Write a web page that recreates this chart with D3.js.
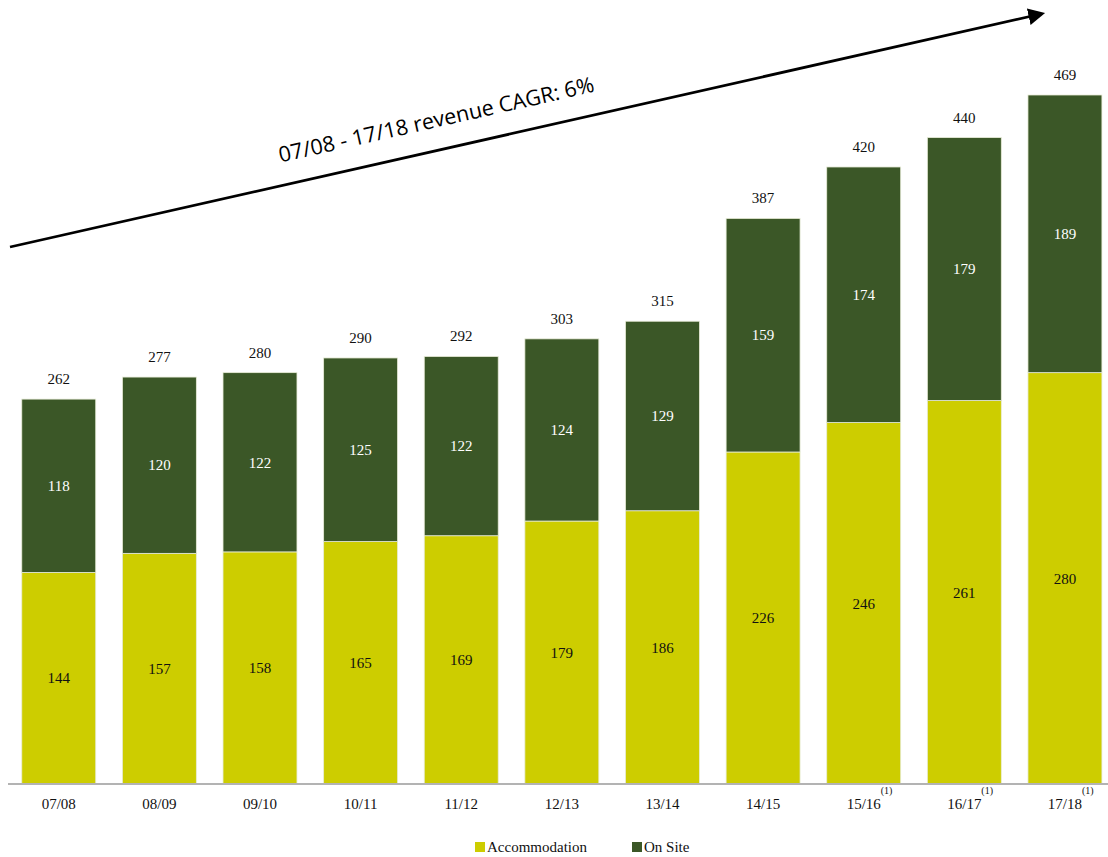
<!DOCTYPE html>
<html>
<head>
<meta charset="utf-8">
<script src="https://cdn.jsdelivr.net/npm/d3@7"></script>
<style>
  body { margin: 0; background: #fff; }
  svg { display: block; }
</style>
</head>
<body>
<div id="chart"></div>
<script>
// Donnees
const years = ["07/08", "08/09", "09/10", "10/11", "11/12", "12/13", "13/14", "14/15", "15/16", "16/17", "17/18"];
const accommodation = [144, 157, 158, 165, 169, 179, 186, 226, 246, 261, 280];
const onSite = [118, 120, 122, 125, 122, 124, 129, 159, 174, 179, 189];
const totals = [262, 277, 280, 290, 292, 303, 315, 387, 420, 440, 469];
const footnoted = ["15/16", "16/17", "17/18"];
const seriesNames = ["Accommodation", "On Site"];
const cagrLabel = "07/08 - 17/18 revenue CAGR: 6%";

const W = 1108, H = 857;
const COLORS = { "Accommodation": "#cdcd00", "On Site": "#3b5727" };
const serif = "'Liberation Serif', 'DejaVu Serif', serif";

const svg = d3.select('#chart').append('svg')
    .attr('width', W)
    .attr('height', H);

const x = d3.scaleBand()
    .domain(years)
    .range([8.7, 1115])
    .paddingInner(0.265)
    .paddingOuter(0.13);

const y = d3.scaleLinear()
    .domain([0, 469])
    .range([784, 95]);

const rows = years.map((yr, i) => ({ year: yr, "Accommodation": accommodation[i], "On Site": onSite[i], total: totals[i] }));
const stacked = d3.stack().keys(seriesNames)(rows);

// Barres empilees
const layers = svg.append('g').selectAll('g')
    .data(stacked)
    .join('g')
    .attr('fill', d => COLORS[d.key]);

layers.selectAll('rect')
    .data(d => d)
    .join('rect')
    .attr('x', d => x(d.data.year))
    .attr('y', d => y(d[1]))
    .attr('width', x.bandwidth())
    .attr('height', d => y(d[0]) - y(d[1]))
    .attr('stroke', '#e8ecd8')
    .attr('stroke-width', 0.8);

// Valeurs dans les segments
layers.selectAll('text')
    .data(d => d.map(v => ({ v, key: d.key })))
    .join('text')
    .attr('x', d => x(d.v.data.year) + x.bandwidth() / 2)
    .attr('y', d => (y(d.v[0]) + y(d.v[1])) / 2)
    .attr('dy', '0.35em')
    .attr('text-anchor', 'middle')
    .attr('font-family', serif)
    .attr('font-size', 15)
    .attr('fill', d => d.key === "On Site" ? '#ffffff' : '#111111')
    .text(d => d.v.data[d.key]);

// Totaux au-dessus des barres
svg.append('g').selectAll('text')
    .data(rows)
    .join('text')
    .attr('x', d => x(d.year) + x.bandwidth() / 2)
    .attr('y', d => y(d["Accommodation"] + d["On Site"]) - 15)
    .attr('text-anchor', 'middle')
    .attr('font-family', serif)
    .attr('font-size', 15)
    .attr('fill', '#111')
    .text(d => d.total);

// Axe X
const xAxis = svg.append('g')
    .attr('transform', 'translate(0,784)')
    .call(d3.axisBottom(x).tickSize(0).tickPadding(14));
xAxis.select('.domain').remove();
xAxis.append('line')
    .attr('x1', 8).attr('x2', W)
    .attr('y1', 0).attr('y2', 0)
    .attr('stroke', '#b3b3b3')
    .attr('stroke-width', 2);
xAxis.selectAll('.tick text')
    .attr('font-family', serif)
    .attr('font-size', 15)
    .attr('fill', '#111');
xAxis.selectAll('.tick')
    .filter(d => footnoted.includes(d))
    .append('text')
    .attr('x', 17)
    .attr('y', 10)
    .attr('text-anchor', 'start')
    .attr('font-family', serif)
    .attr('font-size', 10)
    .attr('fill', '#111')
    .text('(1)');

// Legende
const legendX = [475, 632];
const legend = svg.append('g').selectAll('g')
    .data(seriesNames)
    .join('g')
    .attr('transform', (d, i) => `translate(${legendX[i]},842)`);
legend.append('rect')
    .attr('width', 10).attr('height', 10)
    .attr('fill', d => COLORS[d]);
legend.append('text')
    .attr('x', 12)
    .attr('y', 10)
    .attr('font-family', serif)
    .attr('font-size', 15)
    .attr('fill', '#111')
    .text(d => d);

// Fleche CAGR
svg.append('defs').append('marker')
    .attr('id', 'arrow')
    .attr('viewBox', '0 0 10 10')
    .attr('refX', 2).attr('refY', 5)
    .attr('markerWidth', 6).attr('markerHeight', 6)
    .attr('orient', 'auto')
    .append('path')
    .attr('d', 'M0,0 L10,5 L0,10 Z')
    .attr('fill', '#000');

const a0 = [10, 247], a1 = [1032, 16];
svg.append('line')
    .attr('x1', a0[0]).attr('y1', a0[1])
    .attr('x2', a1[0]).attr('y2', a1[1])
    .attr('stroke', '#000')
    .attr('stroke-width', 2.8)
    .attr('marker-end', 'url(#arrow)');

const angle = Math.atan2(a1[1] - a0[1], a1[0] - a0[0]) * 180 / Math.PI;
svg.append('text')
    .attr('transform', `translate(438,127) rotate(${angle})`)
    .attr('text-anchor', 'middle')
    .attr('font-family', "'Liberation Sans Narrow', 'Open Sans', sans-serif")
    .attr('font-size', 21.5)
    .attr('fill', '#000')
    .text(cagrLabel);
</script>
</body>
</html>
